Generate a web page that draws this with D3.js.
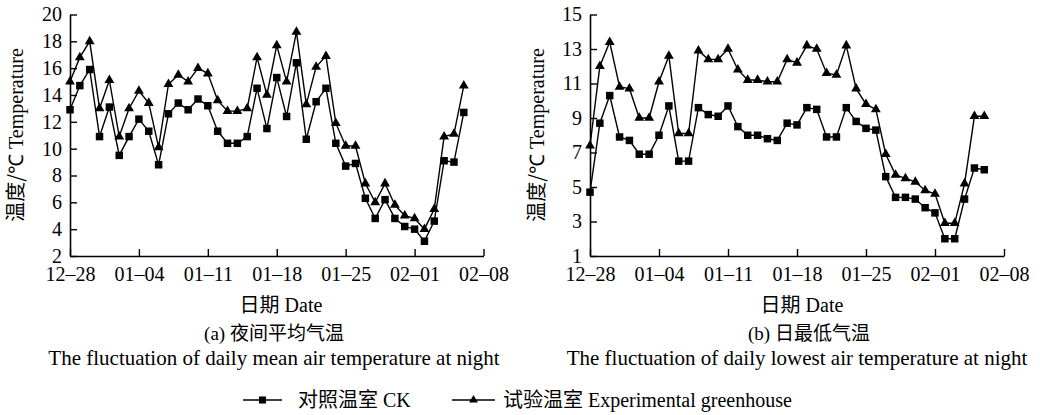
<!DOCTYPE html>
<html>
<head>
<meta charset="utf-8">
<script src="https://cdn.jsdelivr.net/npm/d3@7"></script>
<style>
  html, body { margin: 0; padding: 0; background: #fff; }
  svg { display: block; }
  text, tspan { fill: #000; }
  .lat { font-family: "Liberation Serif", "Times New Roman", serif; }
  .cjk { font-family: "Noto Sans CJK SC", "Noto Sans CJK JP", sans-serif; }
</style>
</head>
<body>
<svg id="chart" width="1040" height="415"></svg>
<script>
// ---- data ----
const dates = ["12-28","12-29","12-30","12-31","01-01","01-02","01-03","01-04","01-05","01-06",
  "01-07","01-08","01-09","01-10","01-11","01-12","01-13","01-14","01-15","01-16",
  "01-17","01-18","01-19","01-20","01-21","01-22","01-23","01-24","01-25","01-26",
  "01-27","01-28","01-29","01-30","01-31","02-01","02-02","02-03","02-04","02-05","02-06"];
const tickDates = ["12-28","01-04","01-11","01-18","01-25","02-01","02-08"];
const tickLabels = ["12–28","01–04","01–11","01–18","01–25","02–01","02–08"];

// (a) nightly mean air temperature
const ckMean  = [12.9,14.7,15.9,10.9,13.1,9.5,10.9,12.2,11.3,8.8,12.6,13.4,12.9,13.7,13.2,11.3,10.4,10.4,10.9,14.5,
                 11.5,15.3,12.4,16.4,10.7,13.5,14.5,10.4,8.7,8.9,6.3,4.8,6.2,4.8,4.2,4.0,3.1,4.6,9.1,9.0,12.7];
const expMean = [15.0,16.8,18.0,13.0,15.1,10.9,13.0,14.3,13.4,10.1,14.8,15.5,15.0,16.0,15.6,13.6,12.8,12.8,13.0,16.8,
                 14.0,17.7,15.0,18.7,13.3,16.1,16.9,11.9,10.2,10.2,7.4,6.0,7.4,5.8,5.0,4.8,4.0,5.5,10.9,11.1,14.7];
// (b) daily lowest air temperature
const ckLow   = [4.7,8.7,10.3,7.9,7.7,6.9,6.9,8.0,9.7,6.5,6.5,9.6,9.2,9.1,9.7,8.5,8.0,8.0,7.8,7.7,
                 8.7,8.6,9.6,9.5,7.9,7.9,9.6,8.8,8.4,8.3,5.6,4.4,4.4,4.3,3.8,3.5,2.0,2.0,4.3,6.1,6.0];
const expLow  = [7.4,12.0,13.4,10.8,10.7,9.0,9.0,11.1,12.6,8.1,8.1,12.9,12.4,12.4,13.0,11.8,11.2,11.2,11.1,11.1,
                 12.4,12.2,13.2,13.0,11.6,11.5,13.2,10.7,9.8,9.5,6.9,5.7,5.5,5.3,4.8,4.6,2.9,2.9,5.2,9.1,9.1];

const yTicksA = [2,4,6,8,10,12,14,16,18,20];
const yTicksB = [1,3,5,7,9,11,13,15];

// mixed-script labels: [CJK part, Latin part]
const yLabel = ["温度/", "℃ Temperature"];
const xLabel = ["日期", " Date"];
const capA = ["(a) ", "夜间平均气温"];
const capB = ["(b) ", "日最低气温"];
const legendNames = [["对照温室", " CK"], ["试验温室", " Experimental greenhouse"]];

// ---- helpers ----
const parse = s => {
  const [m, d] = s.split("-").map(Number);
  return new Date(m === 12 ? 2019 : 2020, m - 1, d);
};
const isCJK = s => /[\u3400-\u9fff]/.test(s);

function mixed(sel, parts, size) {
  sel.style("font-size", size + "px");
  parts.forEach(p => {
    sel.append("tspan").attr("class", isCJK(p) ? "cjk" : "lat").text(p);
  });
  return sel;
}

const svg = d3.select("#chart");

function panel(cfg) {
  const g = svg.append("g");
  const x = d3.scaleTime()
    .domain([parse(tickDates[0]), parse(tickDates[tickDates.length - 1])])
    .range([cfg.x0, cfg.x1]);
  const y = d3.scaleLinear().domain(cfg.yDomain).range([256, 14.5]);

  const xa = d3.axisBottom(x)
    .tickValues(tickDates.map(parse))
    .tickFormat((d, i) => tickLabels[i])
    .tickSizeInner(-7).tickSizeOuter(0).tickPadding(0);
  const gx = g.append("g").attr("transform", `translate(0,256)`).call(xa);
  gx.selectAll("text").attr("dy", null).attr("y", 25).attr("class", "lat").style("font-size", "20px");

  const ya = d3.axisLeft(y)
    .tickValues(cfg.yTicks)
    .tickSizeInner(-7).tickSizeOuter(0).tickPadding(8);
  const gy = g.append("g").attr("transform", `translate(${cfg.x0},0)`).call(ya);
  gy.selectAll("text").attr("class", "lat").style("font-size", "20px");

  [gx, gy].forEach(a => {
    a.attr("font-family", null).attr("font-size", null);
    a.select(".domain").attr("stroke", "#000").attr("stroke-width", 1.6);
    a.selectAll(".tick line").attr("stroke", "#000").attr("stroke-width", 1.4);
  });

  const line = d3.line().x((d, i) => x(parse(dates[i]))).y(d => y(d));
  const series = [
    { vals: cfg.ck,  sym: d3.symbolSquare,   size: 56 },
    { vals: cfg.exp, sym: d3.symbolTriangle, size: 42 }
  ];
  series.forEach(s => {
    g.append("path").datum(s.vals).attr("d", line)
      .attr("fill", "none").attr("stroke", "#000").attr("stroke-width", 1.4);
  });
  series.forEach(s => {
    g.append("g").selectAll("path").data(s.vals).join("path")
      .attr("transform", (d, i) => `translate(${x(parse(dates[i]))},${y(d)})`)
      .attr("d", d3.symbol().type(s.sym).size(s.size))
      .attr("fill", "#000");
  });

  mixed(g.append("text")
    .attr("transform", `translate(${cfg.yLabelX},135) rotate(-90)`)
    .attr("text-anchor", "middle"), yLabel, 20);
  mixed(g.append("text")
    .attr("x", cfg.xLabelX).attr("y", 312)
    .attr("text-anchor", "middle"), xLabel, 20);
  mixed(g.append("text")
    .attr("x", cfg.capX).attr("y", 340)
    .attr("text-anchor", "middle"), cfg.cap1, 19);
  g.append("text")
    .attr("x", cfg.capX2).attr("y", 365)
    .attr("text-anchor", "middle").attr("class", "lat").style("font-size", "21px")
    .text(cfg.cap2);
}

panel({
  x0: 70, x1: 483.5, yDomain: [2, 20], yTicks: yTicksA,
  ck: ckMean, exp: expMean,
  yLabelX: 23, xLabelX: 281, capX: 274, capX2: 274,
  cap1: capA,
  cap2: "The fluctuation of daily mean air temperature at night"
});
panel({
  x0: 590, x1: 1004, yDomain: [1, 15], yTicks: yTicksB,
  ck: ckLow, exp: expLow,
  yLabelX: 544, xLabelX: 802, capX: 809, capX2: 797,
  cap1: capB,
  cap2: "The fluctuation of daily lowest air temperature at night"
});

// legend
const leg = svg.append("g");
const legItems = [
  { x0: 243, x1: 282, tx: 298, sym: d3.symbolSquare, size: 50 },
  { x0: 452, x1: 495, tx: 503, sym: d3.symbolTriangle, size: 34 }
];
legItems.forEach((it, i) => {
  leg.append("line").attr("x1", it.x0).attr("x2", it.x1).attr("y1", 400).attr("y2", 400)
    .attr("stroke", "#000").attr("stroke-width", 1.6);
  leg.append("path").attr("transform", `translate(${(it.x0 + it.x1) / 2},400)`)
    .attr("d", d3.symbol().type(it.sym).size(it.size)).attr("fill", "#000");
  mixed(leg.append("text").attr("x", it.tx).attr("y", 407), legendNames[i], 20);
});
</script>
</body>
</html>
